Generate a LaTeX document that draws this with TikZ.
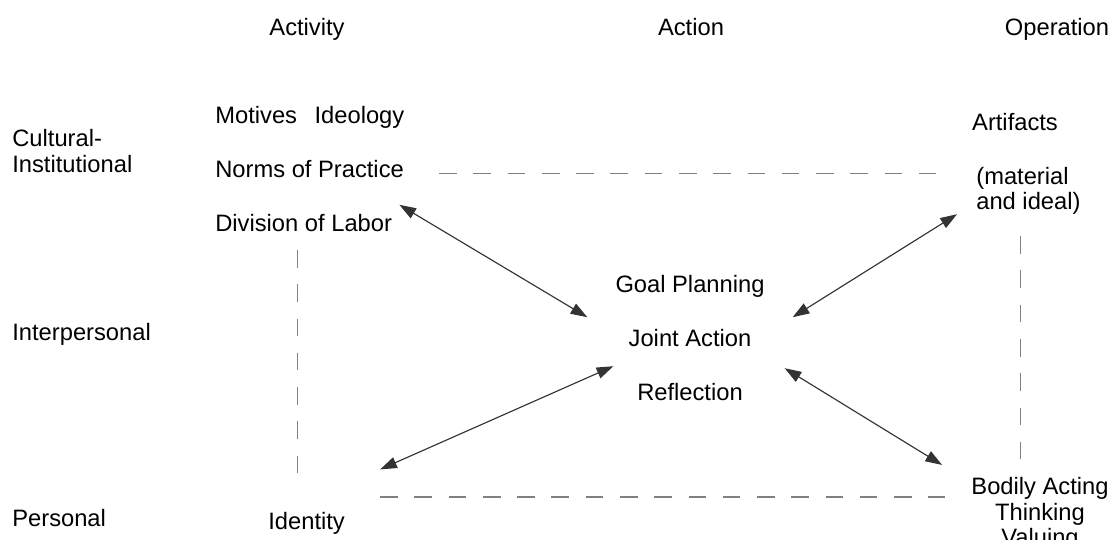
\documentclass[tikz,border=0pt]{standalone}
\usepackage{fontspec}
\setmainfont{Liberation Sans}
\usetikzlibrary{positioning,arrows.meta}

\begin{document}
\begin{tikzpicture}[
		x=0.02cm, y=-0.02cm,
		node distance=0.74cm,
		every node/.style={
			inner sep=0pt,
			font=\fontsize{13.5pt}{14.6pt}\selectfont
		},
		word/.style={text height=0.72em, text depth=0.22em},
		link/.style={draw=black!80, line width=0.65pt,
			{Triangle[length=9.5pt,width=6.5pt]}-{Triangle[length=9.5pt,width=6.5pt]}},
		gap/.style={draw=black!50, line width=0.8pt, dash pattern=on 10pt off 9.5pt}
		]
		\useasboundingbox (0,0) rectangle (1112,540);
		
		% column heads
		\node (activity) [word] at (307,31) {Activity};
		\node (action) [word] at (691,31) {Action};
		\node (operation) [word] at (1057,31) {Operation};
		
		% row heads
		\node (cultural) [anchor=west, align=left] at (12,151) {Cultural-\\Institutional};
		\node (interpersonal) [word, anchor=west] at (12,336) {Interpersonal};
		\node (personal) [word, anchor=west] at (12,522) {Personal};
		
		\node (motives) [word, anchor=west] at (215,119) {Motives\hspace{10pt}Ideology};
		\node (norms) [word, below=of motives.south west, anchor=north west] {Norms of Practice};
		\node (labor) [word, below=of norms.south west, anchor=north west] {Division of Labor};
		
		\node (artifacts) [word] at (1015,126) {Artifacts};
		\node (material) [anchor=west, align=left] at (976,191) {(material\\and ideal)};
		
		\node (goal) [word] at (690,288) {Goal Planning};
		\node (joint) [word, below=of goal] {Joint Action};
		\node (reflection) [word, below=of joint] {Reflection};
		
		\node (identity) [word, anchor=west] at (268,525) {Identity};
		\node (bodily) [align=center] at (1040,514) {Bodily Acting\\Thinking\\Valuing};
		
		\coordinate (laborfoot) at ([xshift=-0.12cm]labor.south);
		\coordinate (matfoot) at ([xshift=-0.16cm]material.south);
		\coordinate (lowline) at ([shift={(35,-28)}]identity.east);
		
		\draw[gap, shorten <=0.7cm, shorten >=0.56cm] (norms.east) -- (norms.east -| material.west);
		\draw[gap, shorten <=0.28cm, shorten >=0.62cm] (laborfoot) -- (laborfoot |- identity.north);
		\draw[gap, shorten <=0.42cm, shorten >=0.16cm] (matfoot) -- (matfoot |- bodily.north);
		\draw[gap, shorten >=0.52cm] (lowline) -- (lowline -| bodily.west);
		
		\draw[link] ([shift={(7,-14)}]labor.north east) -- ([shift={(-41,-25)}]joint.west);
		\draw[link] ([shift={(-19,-1)}]material.south west) -- ([shift={(41,-25)}]joint.east);
		\draw[link] ([shift={(33,26)}]joint.east) -- ([shift={(-29,-12)}]bodily.north west);
		\draw[link] ([shift={(35,-47)}]identity.north east) -- ([shift={(-15,24)}]joint.west);
		
	\end{tikzpicture}
\end{document}
